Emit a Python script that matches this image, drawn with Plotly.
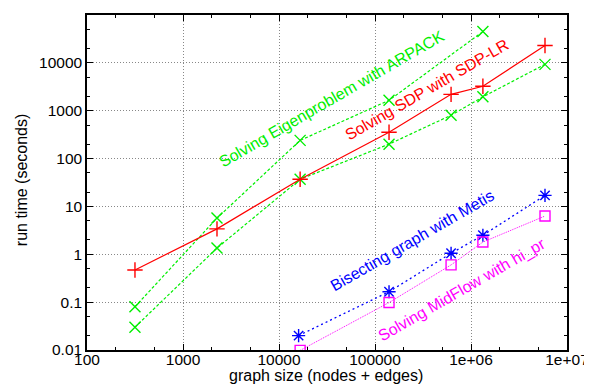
import plotly.graph_objects as go

# ---- data ----
x_sdp = [316, 2260, 16600, 140000, 620000, 1330000, 5900000]
y_sdp = [0.47, 3.4, 37, 355, 2200, 3250, 23000]

x_arpack_hi = [316, 2260, 16600, 140000, 1330000]
y_arpack_hi = [0.08, 5.7, 240, 1650, 45000]

x_arpack_lo = [316, 2260, 16600, 140000, 620000, 1330000, 5900000]
y_arpack_lo = [0.03, 1.35, 37, 200, 805, 1950, 9300]

x_metis = [16000, 140000, 620000, 1330000, 5900000]
y_metis = [0.02, 0.165, 1.05, 2.5, 17]

x_hipr = [16600, 140000, 620000, 1330000, 5900000]
y_hipr = [0.0098, 0.098, 0.6, 1.8, 6.3]

x_tickvals = [100, 1000, 10000, 100000, 1000000, 10000000]
x_ticktext = ["100", "1000", "10000", "100000", "1e+06", "1e+07"]
y_tickvals = [0.01, 0.1, 1, 10, 100, 1000, 10000, 100000]
y_ticktext = ["0.01", "0.1", "1", "10", "100", "1000", "10000", "100000"]

labels = ["Solving Eigenproblem with ARPACK", "Solving SDP with SDP-LR",
          "Bisecting graph with Metis", "Solving MidFlow with hi_pr"]
label_colors = ["#00ee00", "#ff0000", "#0000ff", "#ff00ff"]
label_x = [4.552, 5.542, 5.385, 5.906]   # log10 positions
label_y = [3.261, 3.449, 0.296, -0.747]

x_title = "graph size (nodes + edges)"
y_title = "run time (seconds)"

FONT = "Liberation Sans, Arial, Helvetica, sans-serif"
FS = 15.5
TFS = 16

fig = go.Figure()
fig.add_trace(go.Scatter(x=x_arpack_hi, y=y_arpack_hi, mode="lines+markers",
                         line=dict(color="#00ee00", width=1.2, dash="3px,2px"),
                         marker=dict(symbol="x-thin", size=11, line=dict(color="#00ee00", width=1.4))))
fig.add_trace(go.Scatter(x=x_arpack_lo, y=y_arpack_lo, mode="lines+markers",
                         line=dict(color="#00ee00", width=1.2, dash="3px,2px"),
                         marker=dict(symbol="x-thin", size=11, line=dict(color="#00ee00", width=1.4))))
fig.add_trace(go.Scatter(x=x_sdp, y=y_sdp, mode="lines+markers",
                         line=dict(color="#ff0000", width=1.2),
                         marker=dict(symbol="cross-thin", size=11, line=dict(color="#ff0000", width=1.4))))
fig.add_trace(go.Scatter(x=x_metis, y=y_metis, mode="lines+markers",
                         line=dict(color="#0000ff", width=1.3, dash="2px,3px"),
                         marker=dict(symbol="asterisk-open", size=11, line=dict(color="#0000ff", width=1.4))))
fig.add_trace(go.Scatter(x=x_hipr, y=y_hipr, mode="lines+markers",
                         line=dict(color="#ff00ff", width=1, dash="1px,1px"),
                         marker=dict(symbol="square-open", size=10, line=dict(color="#ff00ff", width=1.4))))

for t, c, lx, ly in zip(labels, label_colors, label_x, label_y):
    fig.add_annotation(x=lx, y=ly, xref="x", yref="y", text=t, showarrow=False,
                       textangle=-30, font=dict(color=c, size=TFS, family=FONT),
                       xanchor="center", yanchor="middle")

# axis titles as paper-anchored annotations
fig.add_annotation(x=0.498, y=-0.077, xref="paper", yref="paper", text=x_title, showarrow=False,
                   font=dict(size=TFS, family=FONT, color="black"), xanchor="center", yanchor="middle")
fig.add_annotation(x=-0.1375, y=0.507, xref="paper", yref="paper", text=y_title, showarrow=False,
                   textangle=-90, font=dict(size=TFS, family=FONT, color="black"),
                   xanchor="center", yanchor="middle")

axis_common = dict(
    type="log", showline=True, linecolor="black", linewidth=1.5, mirror="allticks",
    ticks="inside", ticklen=6, tickcolor="black", tickwidth=1,
    showgrid=True, gridcolor="#888888", gridwidth=1, griddash="1px,2px",
    zeroline=False, tickfont=dict(size=FS, color="black", family=FONT),
    minor=dict(ticks="inside", ticklen=3, tickcolor="black", showgrid=False),
    automargin=False,
)

fig.update_xaxes(range=[2, 7], tickvals=x_tickvals, ticktext=x_ticktext,
                 ticklabelstandoff=-5, **axis_common)
fig.update_yaxes(range=[-2, 5], tickvals=y_tickvals, ticktext=y_ticktext,
                 **axis_common)

# page body has an 8px margin, so the figure is 8px smaller and margins compensate
fig.update_layout(
    width=584, height=379, showlegend=False,
    margin=dict(l=79, r=25, t=7, b=37),
    plot_bgcolor="white", paper_bgcolor="white",
    font=dict(family=FONT, size=FS, color="black"),
)

fig.write_html("out.html")
